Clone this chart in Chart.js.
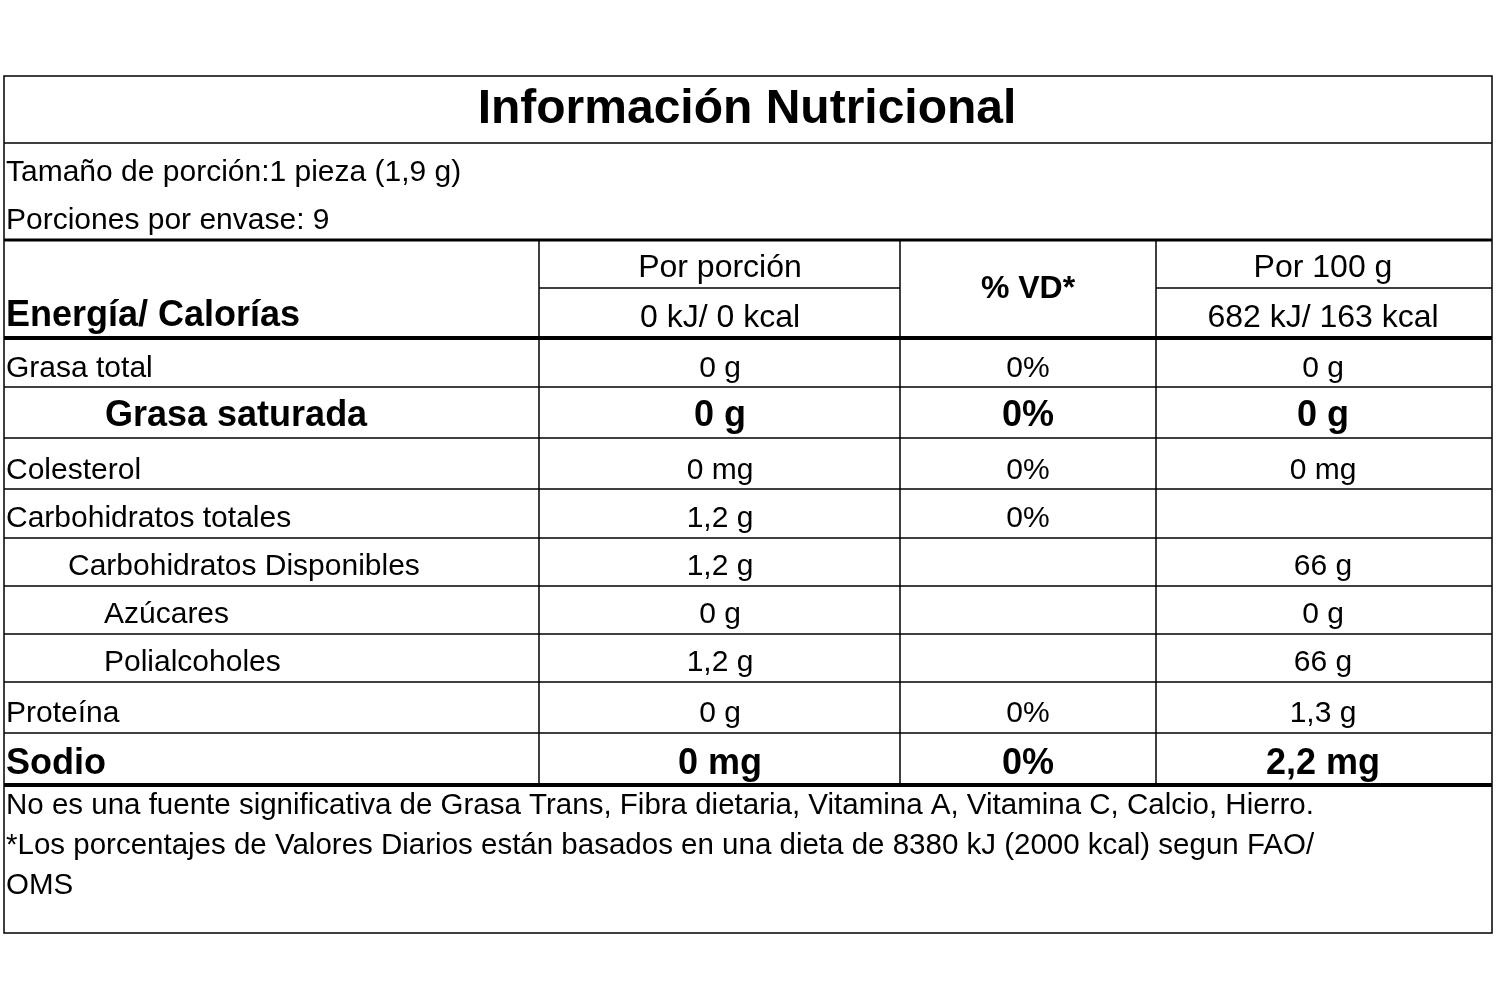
<!DOCTYPE html>
<html><head><meta charset="utf-8">
<script src="https://cdn.jsdelivr.net/npm/chart.js@4"></script>
<style>html,body{margin:0;padding:0;background:#fff}#w{width:1500px;height:1000px}</style>
</head><body><div id="w"><canvas id="c"></canvas></div>
<script>
const title = "Información Nutricional";
const servingLines = ["Tamaño de porción:1 pieza (1,9 g)", "Porciones por envase: 9"];
const headers = ["Por porción", "% VD*", "Por 100 g"];
const energyLabel = "Energía/ Calorías";
const energyValues = ["0 kJ/ 0 kcal", "682 kJ/ 163 kcal"];
const nutrients = ["Grasa total","Grasa saturada","Colesterol","Carbohidratos totales","Carbohidratos Disponibles","Azúcares","Polialcoholes","Proteína","Sodio"];
const perPortion = ["0 g","0 g","0 mg","1,2 g","1,2 g","0 g","1,2 g","0 g","0 mg"];
const dailyValue = ["0%","0%","0%","0%","","","","0%","0%"];
const per100 = ["0 g","0 g","0 mg","","66 g","0 g","66 g","1,3 g","2,2 mg"];
const boldRow = [false,true,false,false,false,false,false,false,true];
const footnotes = ["No es una fuente significativa de Grasa Trans, Fibra dietaria, Vitamina A, Vitamina C, Calcio, Hierro.",
"*Los porcentajes de Valores Diarios están basados en una dieta de 8380 kJ (2000 kcal) segun FAO/","OMS"];

// layout
const rowEdges = [338,387,438,489,538,586,634,682,733,785];
const rowTextY = [369,416,471,519,567,615,663,714,764];
const labelX = [6,105,6,6,68,104,104,6,6];
const colX = [539,900,1156];
const colC = [720,1028,1323];
const F = '"Liberation Sans", Arial, sans-serif';

const tablePlugin = {
  id:'table',
  afterDraw(chart){
    const c = chart.ctx, X = chart.scales.x, Y = chart.scales.y;
    const px = v=>X.getPixelForValue(v), py = v=>Y.getPixelForValue(v);
    const line=(x1,y1,x2,y2,w)=>{c.beginPath();c.lineWidth=w;c.strokeStyle='#000';c.moveTo(px(x1),py(y1));c.lineTo(px(x2),py(y2));c.stroke();};
    const text=(t,x,y,size,bold,align)=>{c.font=(bold?'bold ':'')+size+'px '+F;c.fillStyle='#000';c.textAlign=align||'left';c.textBaseline='middle';c.fillText(t,px(x),py(y));};
    c.save();
    c.fillStyle='#fff';c.fillRect(0,0,chart.width,chart.height);
    c.strokeStyle='#000';c.lineWidth=1.5;c.strokeRect(px(4),py(76),px(1492)-px(4),py(933)-py(76));
    line(4,143,1492,143,1.5);
    line(4,240,1492,240,3);
    line(539,288,900,288,1.5);line(1156,288,1492,288,1.5);
    rowEdges.forEach((y,i)=>line(4,y,1492,y,(i===0||i===rowEdges.length-1)?4:1.5));
    colX.forEach(x=>line(x,240,x,785,1.5));
    text(title,747,110,48,true,'center');
    text(servingLines[0],6,173,30,false);
    text(servingLines[1],6,221,30,false);
    text(headers[0],colC[0],268,32,false,'center');
    text(headers[1],colC[1],289,32,true,'center');
    text(headers[2],colC[2],268,32,false,'center');
    text(energyLabel,6,316,36,true);
    text(energyValues[0],colC[0],318,32,false,'center');
    text(energyValues[1],colC[2],318,32,false,'center');
    nutrients.forEach((n,i)=>{
      const b=boldRow[i], s=b?36:30, sv=b?36:30;
      text(n,labelX[i],rowTextY[i],s,b);
      text(perPortion[i],colC[0],rowTextY[i],sv,b,'center');
      text(dailyValue[i],colC[1],rowTextY[i],sv,b,'center');
      text(per100[i],colC[2],rowTextY[i],sv,b,'center');
    });
    footnotes.forEach((t,i)=>text(t,6,806+i*40,29.5,false));
    c.restore();
  }
};
new Chart(document.getElementById('c'),{
  type:'scatter',
  data:{datasets:[{data:[]}]},
  options:{responsive:true,maintainAspectRatio:false,animation:false,
    layout:{padding:0},
    plugins:{legend:{display:false},tooltip:{enabled:false}},
    scales:{x:{type:'linear',min:0,max:1500,display:false},y:{type:'linear',min:0,max:1000,reverse:true,display:false}}},
  plugins:[tablePlugin]
});
</script></body></html>
